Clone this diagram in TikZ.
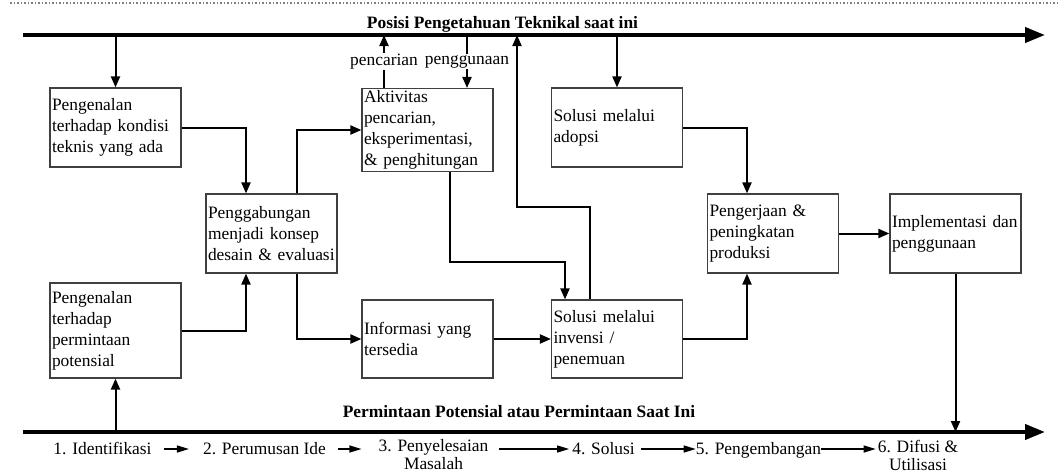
\documentclass[tikz,border=0pt]{standalone}
\usepackage{fontspec}
\setmainfont{Liberation Serif}
\usetikzlibrary{arrows.meta, positioning}

\begin{document}
\begin{tikzpicture}[x=1pt, y=-1pt,
      every node/.style={font=\fontsize{17.4}{21}\selectfont},
      blok/.style={draw=black!75, line width=1.2pt, text width=127pt,
                   minimum height=79pt, align=left, inner sep=2pt},
      garis/.style={line width=4pt, -{Triangle[length=20pt,width=15pt]}},
      panah/.style={line width=2pt, -{Triangle[length=11pt,width=9pt]}},
      tahap/.style={line width=1.2pt, -{Triangle[length=12pt,width=7pt]}},
      judul/.style={font=\fontsize{17.4}{21}\selectfont\bfseries, anchor=base},
      tahapteks/.style={anchor=base, inner sep=0pt, align=center},
      ket/.style={fill=white, inner sep=1pt}
    ]
      \useasboundingbox (0,0) rectangle (1060,474);
      \draw[gray, line width=1.5pt, dotted] (10,3) -- (1060,3);

      % knowledge and demand axes
      \coordinate (t0) at (23,35);
      \coordinate (t1) at (1045,35);
      \coordinate (b0) at (23,432);
      \coordinate (b1) at (1045,432);
      \draw[garis] (t0) -- (t1);
      \draw[garis] (b0) -- (b1);
      \node[judul] (jtop) at (502.5,28) {Posisi Pengetahuan Teknikal saat ini};
      \node[judul] (jbot) at (519,417) {Permintaan Potensial atau Permintaan Saat Ini};

      % boxes
      \node[blok] (kondisi)  at (115.5,127.5) {Pengenalan\\terhadap kondisi\\teknis yang ada};
      \node[blok] (gabung)   at (271.5,233.5) {Penggabungan\\menjadi konsep\\desain \& evaluasi};
      \node[blok, minimum height=80pt] (aktiv) at (427.5,130)
        {Aktivitas\\pencarian,\\eksperimentasi,\\\& penghitungan};
      \node[blok] (adopsi)   at (617,127.5)   {Solusi melalui\\adopsi};
      \node[blok] (kerja)    at (773,233.5)   {Pengerjaan \&\\peningkatan\\produksi};
      \node[blok] (impl)     at (955.5,233.5) {Implementasi dan\\penggunaan};
      \node[blok, minimum height=95pt] (minta) at (115.5,330.5)
        {Pengenalan\\terhadap\\permintaan\\potensial};
      \node[blok, minimum height=78pt] (info)  at (427.5,339) {Informasi yang\\tersedia};
      \node[blok, minimum height=78pt] (invensi) at (617,339) {Solusi melalui\\invensi /\\penemuan};
      \coordinate (belok) at (517,207);

      % connectors
      \draw[panah] (kondisi.north |- t0) -- (kondisi.north);
      \draw[panah] (kondisi.east) -| ([xshift=-25.5pt]gabung.north);
      \draw[panah] ([xshift=25.5pt]gabung.north) |- (aktiv.west);
      \draw[panah] ([xshift=-43.5pt]aktiv.north) -- node[ket] {pencarian}
        ([xshift=-43.5pt]aktiv.north |- t0);
      \draw[panah] ([xshift=39.5pt]aktiv.north |- t0) -- node[ket] {penggunaan}
        ([xshift=39.5pt]aktiv.north);
      \draw[panah] ([xshift=22.5pt]aktiv.south) -- ++(0,90) -| ([xshift=-52pt]invensi.north);
      \draw[panah] ([xshift=-27pt]invensi.north) |- (belok) -- (belok |- t0);
      \draw[panah] ([xshift=25.5pt]gabung.south) |- (info.west);
      \draw[panah] (info.east) -- (invensi.west);
      \draw[panah] (minta.east) -| ([xshift=-25.5pt]gabung.south);
      \draw[panah] (minta.south |- b0) -- (minta.south);
      \draw[panah] (adopsi.north |- t0) -- (adopsi.north);
      \draw[panah] (adopsi.east) -| ([xshift=-26pt]kerja.north);
      \draw[panah] (invensi.east) -| ([xshift=-26pt]kerja.south);
      \draw[panah] (kerja.east) -- (impl.west);
      \draw[panah] (impl.south) -- (impl.south |- b0);

      % stages
      \coordinate (py) at (0,449);
      \node[tahapteks] (s1) at (102.5,454) {1. Identifikasi};
      \node[tahapteks] (s2) at (264.5,454) {2. Perumusan Ide};
      \node[tahapteks] (s3) at (433.5,469) {3. Penyelesaian\\[-3pt]Masalah};
      \node[tahapteks] (s4) at (603.5,454) {4. Solusi};
      \node[tahapteks] (s5) at (758.5,454) {5. Pengembangan};
      \node[tahapteks] (s6) at (918,470)   {6. Difusi \&\\[-3pt]Utilisasi};
      \foreach \a/\b/\p/\q in {s1/s2/12/14, s2/s3/12/17, s3/s4/10/3, s4/s5/6/0, s5/s6/0/2}
        \draw[tahap, shorten <=\p pt, shorten >=\q pt] (\a.east |- py) -- (\b.west |- py);
    \end{tikzpicture}
\end{document}
